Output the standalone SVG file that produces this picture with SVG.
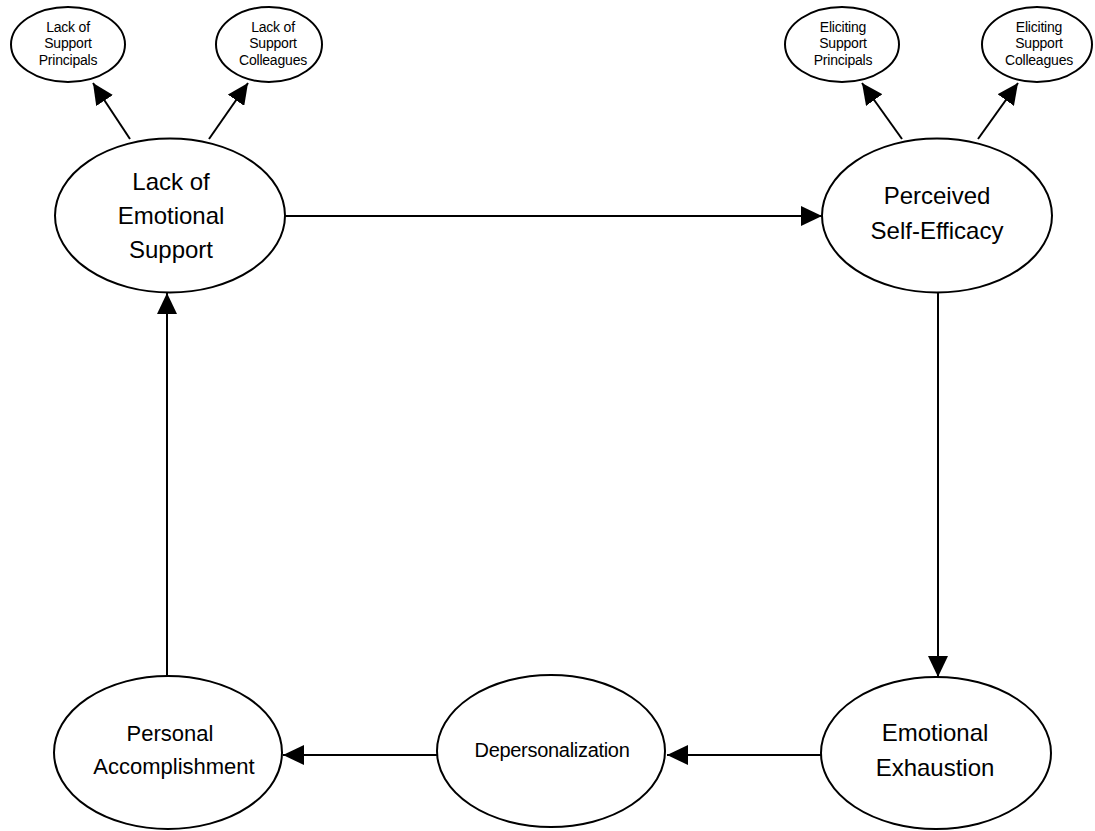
<svg xmlns="http://www.w3.org/2000/svg" width="1095" height="831" viewBox="0 0 1095 831">
<style>
.node ellipse{fill:#fff;stroke:#000;stroke-width:2}
.conn line{stroke:#000;stroke-width:2;marker-end:url(#ah)}
text{font-family:"Liberation Sans",Arial,sans-serif;fill:#000;text-anchor:middle}
.big{font-size:24px}
.small{font-size:14px;letter-spacing:-0.2px}
</style>
<defs>
<marker id="ah" markerUnits="userSpaceOnUse" markerWidth="22" markerHeight="20" refX="21" refY="10" orient="auto">
<path d="M0,0 L21,10 L0,20 z" fill="#000"/>
</marker>
</defs>
<rect width="1095" height="831" fill="#fff"/>
<g id="connectors" class="conn">
<line x1="130" y1="139" x2="93" y2="83"/>
<line x1="209" y1="139" x2="248" y2="83"/>
<line x1="902" y1="139" x2="862" y2="83"/>
<line x1="978" y1="139" x2="1018" y2="83"/>
<line x1="285" y1="216" x2="822" y2="216"/>
<line x1="938" y1="292" x2="938" y2="677"/>
<line x1="821" y1="755" x2="667" y2="755"/>
<line x1="437" y1="755" x2="283" y2="755"/>
<line x1="167" y1="676" x2="167" y2="293"/>
</g>
<g id="lack-support-principals" class="node">
<ellipse cx="68" cy="44.5" rx="57" ry="37.5"/>
<text class="small" x="68" y="32">Lack of</text>
<text class="small" x="68" y="48">Support</text>
<text class="small" x="68" y="65">Principals</text>
</g>
<g id="lack-support-colleagues" class="node">
<ellipse cx="269" cy="44.5" rx="53" ry="37.5"/>
<text class="small" x="273" y="32">Lack of</text>
<text class="small" x="273" y="48">Support</text>
<text class="small" x="273" y="65">Colleagues</text>
</g>
<g id="eliciting-support-principals" class="node">
<ellipse cx="842" cy="44.5" rx="57" ry="37.5"/>
<text class="small" x="843" y="32">Eliciting</text>
<text class="small" x="843" y="48">Support</text>
<text class="small" x="843" y="65">Principals</text>
</g>
<g id="eliciting-support-colleagues" class="node">
<ellipse cx="1037" cy="44.5" rx="55" ry="37.5"/>
<text class="small" x="1039" y="32">Eliciting</text>
<text class="small" x="1039" y="48">Support</text>
<text class="small" x="1039" y="65">Colleagues</text>
</g>
<g id="lack-emotional-support" class="node">
<ellipse cx="170" cy="215.5" rx="115" ry="77"/>
<text class="big" x="171" y="190">Lack of</text>
<text class="big" x="171" y="224">Emotional</text>
<text class="big" x="171" y="258">Support</text>
</g>
<g id="perceived-self-efficacy" class="node">
<ellipse cx="937" cy="215.5" rx="115" ry="77"/>
<text class="big" x="937" y="204">Perceived</text>
<text class="big" x="937" y="239">Self-Efficacy</text>
</g>
<g id="emotional-exhaustion" class="node">
<ellipse cx="936" cy="753" rx="115" ry="76"/>
<text class="big" x="935" y="741">Emotional</text>
<text class="big" x="935" y="776">Exhaustion</text>
</g>
<g id="depersonalization" class="node">
<ellipse cx="551" cy="751" rx="114" ry="76"/>
<text x="552" y="757" font-size="20" letter-spacing="-0.3">Depersonalization</text>
</g>
<g id="personal-accomplishment" class="node">
<ellipse cx="168" cy="752.5" rx="114" ry="76.5"/>
<text x="170" y="741" font-size="22">Personal</text>
<text x="174" y="774" font-size="22">Accomplishment</text>
</g>
</svg>
